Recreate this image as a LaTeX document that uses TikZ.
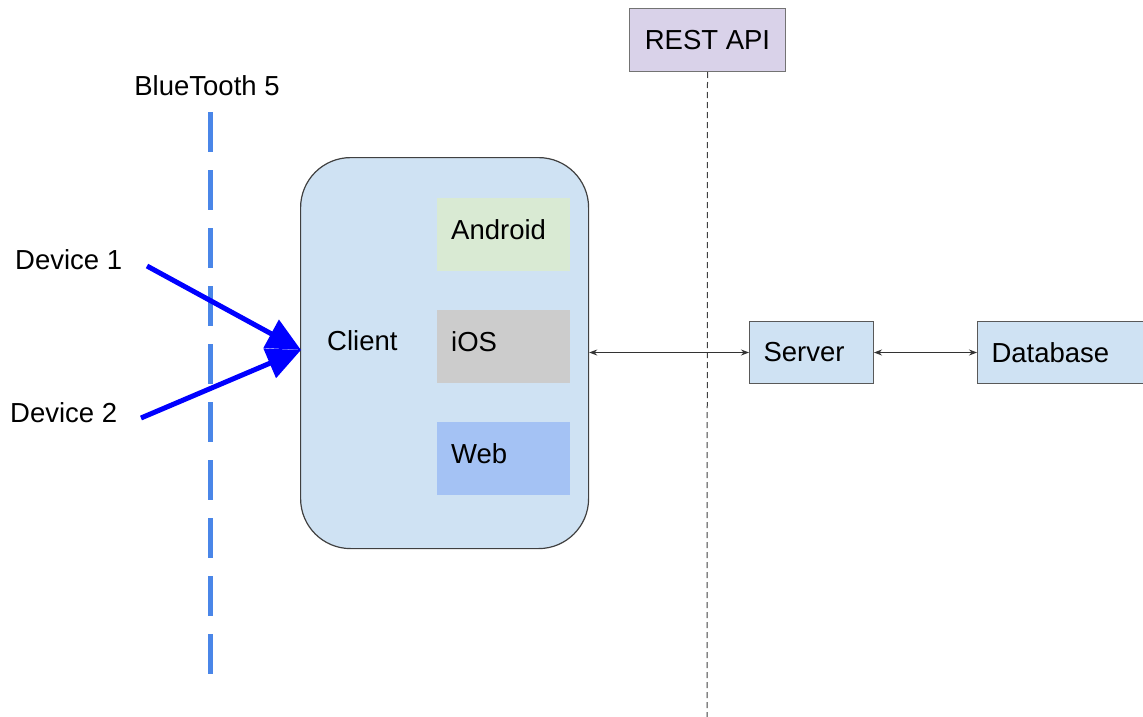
\documentclass[tikz,border=0pt]{standalone}
\usepackage{fontspec}
\setmainfont{Liberation Sans}
\usetikzlibrary{arrows.meta}
\definecolor{btblue}{HTML}{4A86E8}
\definecolor{clientfill}{HTML}{CFE2F3}
\definecolor{androidfill}{HTML}{D9EAD3}
\definecolor{iosfill}{HTML}{CCCCCC}
\definecolor{webfill}{HTML}{A4C2F4}
\definecolor{restfill}{HTML}{D9D2E9}
\definecolor{bordergray}{HTML}{595959}
\begin{document}
\begin{tikzpicture}[x=1pt,y=-1pt,
  every node/.style={font=\fontsize{27.5}{32}\selectfont, inner sep=0pt},
  txt/.style={anchor=west},
  subbox/.style={draw=none, minimum height=73pt, text width=105pt, inner xsep=14pt, text depth=10pt, align=left, anchor=north west},
  plainbox/.style={draw=bordergray, line width=1pt, fill=clientfill, minimum height=62pt, inner xsep=14pt, anchor=north west, align=left},
  thinarrow/.style={{Stealth[length=8pt,width=6pt]}-{Stealth[length=8pt,width=6pt]}, line width=0.9pt, draw=black!80},
  bigarrow/.style={-{Triangle[length=34pt,width=31pt]}, line width=5pt, draw=blue, shorten >=0pt}
]
\useasboundingbox (0,0) rectangle (1143,717);
% BlueTooth
\node (bt) at (207,86) {BlueTooth 5};
\coordinate (btTop) at (210,112);
\coordinate (btBot) at (210,677);
\draw[btblue, line width=5pt, dash pattern=on 40pt off 18pt] (btTop) -- (btBot);
% REST API
\node[draw=black!55, line width=1pt, fill=restfill, minimum width=156pt, minimum height=63pt, anchor=north west] (rest) at (629,8) {REST API};
\coordinate (restBot) at (707,717);
\draw[black!75, line width=1pt, dash pattern=on 6pt off 4pt] (rest.south) -- (restBot);
% Client
\node[draw=black!75, line width=1.2pt, fill=clientfill, rounded corners=50pt, minimum width=288pt, minimum height=391pt, anchor=north west] (client) at (300,157) {};
\node[txt] (clientlbl) at (327,341) {Client};
\node[subbox, fill=androidfill] (android) at (437,198) {Android};
\node[subbox, fill=iosfill] (ios) at (437,310) {iOS};
\node[subbox, fill=webfill] (web) at (437,422) {Web};
% Server / Database
\node[plainbox, minimum width=124pt, text width=96pt] (server) at (749,321) {Server};
\node[plainbox, minimum width=170pt, text width=142pt] (db) at (977,321) {Database};
\draw[thinarrow] (client.east |- server.west) -- (server.west);
\draw[thinarrow] (server.east) -- (db.west);
% Devices
\node[txt] (dev1) at (15,260) {Device 1};
\node[txt] (dev2) at (10,413) {Device 2};
\coordinate (d1tail) at (147,266);
\coordinate (d2tail) at (141,418);
\coordinate (tip) at (301,350);
\draw[bigarrow] (d1tail) -- (tip);
\draw[bigarrow] (d2tail) -- (tip);
\end{tikzpicture}
\end{document}
